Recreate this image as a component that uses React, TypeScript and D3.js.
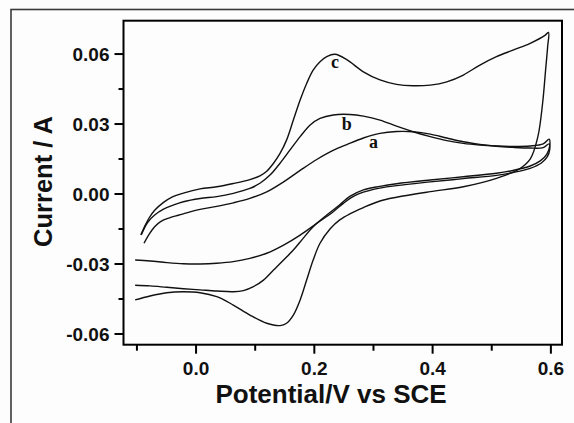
import React from "react";
import * as d3 from "d3";

// ---- data (potential V, current A) ----
const curveNames = ["a", "b", "c"];

const aPotential = [
  -0.088, -0.08, -0.07, -0.06, -0.045, -0.03, -0.0215, 0.0068, 0.035, 0.063, 0.091, 0.1195, 0.148, 0.176, 0.204, 0.23,
  0.255, 0.283, 0.311, 0.339, 0.367, 0.396, 0.424, 0.452, 0.48, 0.508, 0.536, 0.565, 0.587, 0.597,
  0.598, 0.594, 0.584, 0.565, 0.536, 0.508, 0.452, 0.396, 0.339, 0.3, 0.27, 0.249, 0.232, 0.204, 0.176, 0.148, 0.1195,
  0.091, 0.063, 0.035, 0.0068, -0.0215, -0.0495, -0.0778, -0.103,
];
const aCurrent = [
  -0.0211, -0.0175, -0.014, -0.0118, -0.0102, -0.0091, -0.0085, -0.0066, -0.0053, -0.0038, -0.0019, 0.0009, 0.0052,
  0.0101, 0.0148, 0.0185, 0.0212, 0.024, 0.026, 0.0268, 0.0267, 0.0257, 0.024, 0.0224, 0.0213, 0.0205, 0.02, 0.0197,
  0.0199, 0.0215,
  0.019, 0.016, 0.0133, 0.011, 0.0092, 0.008, 0.0066, 0.0052, 0.0036, 0.002, -0.0005, -0.004, -0.0076, -0.0126, -0.0176,
  -0.0219, -0.0254, -0.0276, -0.029, -0.0297, -0.03, -0.0299, -0.0294, -0.0287, -0.0283,
];

const bPotential = [
  -0.0925, -0.082, -0.07, -0.055, -0.04, -0.0215, 0.0068, 0.035, 0.063, 0.091, 0.108, 0.125, 0.142, 0.159, 0.176, 0.193,
  0.2096, 0.232, 0.26, 0.283, 0.311, 0.339, 0.367, 0.396, 0.424, 0.452, 0.48, 0.508, 0.536, 0.565, 0.587, 0.597,
  0.598, 0.593, 0.582, 0.565, 0.536, 0.508, 0.452, 0.396, 0.339, 0.311, 0.283, 0.26, 0.2435, 0.221, 0.198, 0.181,
  0.1645, 0.148, 0.131, 0.114, 0.097, 0.08, 0.063, 0.035, 0.0068, -0.0215, -0.0495, -0.0778, -0.103,
];
const bCurrent = [
  -0.0174, -0.0122, -0.009, -0.0065, -0.0049, -0.0033, -0.0019, -0.0011, 0.0003, 0.0024, 0.0046, 0.0081, 0.0132,
  0.0189, 0.0246, 0.0296, 0.0324, 0.0339, 0.0341, 0.0334, 0.0317, 0.0291, 0.0267, 0.0246, 0.0229, 0.0217, 0.021,
  0.0206, 0.0204, 0.0206, 0.0215, 0.0235,
  0.0205, 0.017, 0.0142, 0.012, 0.0101, 0.0089, 0.0074, 0.006, 0.0044, 0.0033, 0.0018, -0.001, -0.0045, -0.009, -0.014,
  -0.019, -0.024, -0.0283, -0.0326, -0.0369, -0.0397, -0.0414, -0.0419, -0.0416, -0.0411, -0.0406, -0.04, -0.0394,
  -0.0391,
];

const cPotential = [
  -0.0935, -0.088, -0.08, -0.07, -0.055, -0.04, -0.0215, 0.0068, 0.035, 0.063, 0.091, 0.108, 0.1195, 0.131, 0.142,
  0.153, 0.1645, 0.176, 0.187, 0.198, 0.2096, 0.221, 0.235, 0.2548, 0.283, 0.311, 0.339, 0.367, 0.396, 0.424, 0.452,
  0.48, 0.508, 0.536, 0.565, 0.59, 0.596,
  0.5945, 0.591, 0.586, 0.578, 0.565, 0.545, 0.508, 0.452, 0.396, 0.339, 0.311, 0.283, 0.26, 0.2435, 0.2265, 0.2096,
  0.198, 0.187, 0.176, 0.1645, 0.153, 0.142, 0.1195, 0.091, 0.063, 0.035, 0.0068, -0.0215, -0.0495, -0.0778, -0.103,
];
const cCurrent = [
  -0.0176, -0.0145, -0.0105, -0.007, -0.0036, -0.0012, 0.0004, 0.0022, 0.0031, 0.0045, 0.0062, 0.0078, 0.0098, 0.0132,
  0.0174, 0.0231, 0.0317, 0.0403, 0.0474, 0.0531, 0.0567, 0.0589, 0.0599, 0.0576, 0.0524, 0.0489, 0.047, 0.0464,
  0.0467, 0.0481, 0.051, 0.0553, 0.0589, 0.0617, 0.0646, 0.068, 0.0693,
  0.0631, 0.053, 0.0389, 0.0246, 0.015, 0.0105, 0.0067, 0.0031, 0.001, -0.0014, -0.003, -0.0058, -0.0085, -0.011,
  -0.015, -0.0211, -0.0283, -0.0369, -0.0454, -0.0519, -0.0554, -0.0564, -0.0554, -0.0519, -0.0476, -0.044, -0.0423,
  -0.0419, -0.0423, -0.0437, -0.0454,
];

// label anchor positions in data units
const labelPotential = [0.3, 0.2548, 0.235];
const labelCurrent = [0.0197, 0.0274, 0.0539];

const xTickMajor = [0.0, 0.2, 0.4, 0.6];
const xTickMinor = [-0.1, 0.1, 0.3, 0.5];
const yTickMajor = [-0.06, -0.03, 0.0, 0.03, 0.06];
const yTickMinor = [-0.045, -0.015, 0.015, 0.045];

const xTitle = "Potential/V vs SCE";
const yTitle = "Current / A";

const W = 574;
const H = 423;
const plot = { left: 123.5, right: 562, top: 20.7, bottom: 344.7 };

export default function App() {
  const x = d3.scaleLinear().domain([-0.1227, 0.6188]).range([plot.left, plot.right]);
  const y = d3.scaleLinear().domain([-0.0646, 0.0743]).range([plot.bottom, plot.top]);

  const series = [
    { pot: aPotential, cur: aCurrent },
    { pot: bPotential, cur: bCurrent },
    { pot: cPotential, cur: cCurrent },
  ];
  const line = d3
    .line<[number, number]>()
    .x((d) => x(d[0]))
    .y((d) => y(d[1]))
    .curve(d3.curveCatmullRom.alpha(0.5));

  const sans = "'Liberation Sans', Arial, sans-serif";
  const serif = "'Liberation Serif', 'Times New Roman', serif";

  return (
    <svg
      width={W}
      height={H}
      style={{ position: "absolute", left: 0, top: 0, background: "#ffffff" }}
    >
      <rect x={0} y={0} width={W} height={H} fill="#fdfdfd" />
      {/* outer frame */}
      <rect x={11} y={9.5} width={W + 20} height={H + 20} fill="none" stroke="#3a3a3a" strokeWidth={1.6} />

      {/* curves */}
      {series.map((s, i) => (
        <path
          key={curveNames[i]}
          d={line(s.pot.map((p, k) => [p, s.cur[k]] as [number, number])) || ""}
          fill="none"
          stroke="#111"
          strokeWidth={1.4}
        />
      ))}

      {/* curve labels */}
      {curveNames.map((n, i) => (
        <text
          key={"l" + n}
          x={x(labelPotential[i])}
          y={y(labelCurrent[i])}
          textAnchor="middle"
          fontFamily={serif}
          fontWeight="bold"
          fontSize={18}
          fill="#111"
        >
          {n}
        </text>
      ))}

      {/* plot frame */}
      <rect
        x={plot.left}
        y={plot.top}
        width={plot.right - plot.left}
        height={plot.bottom - plot.top}
        fill="none"
        stroke="#000"
        strokeWidth={2}
      />

      {/* y ticks */}
      {yTickMajor.map((t) => (
        <g key={"ym" + t}>
          <line x1={plot.left - 9} x2={plot.left} y1={y(t)} y2={y(t)} stroke="#000" strokeWidth={2} />
          <text
            x={plot.left - 14}
            y={y(t) + 7}
            textAnchor="end"
            fontFamily={sans}
            fontWeight="bold"
            fontSize={19}
            fill="#111"
          >
            {t.toFixed(2)}
          </text>
        </g>
      ))}
      {yTickMinor.map((t) => (
        <line key={"yn" + t} x1={plot.left - 5} x2={plot.left} y1={y(t)} y2={y(t)} stroke="#000" strokeWidth={2} />
      ))}

      {/* x ticks */}
      {xTickMajor.map((t) => (
        <g key={"xm" + t}>
          <line x1={x(t)} x2={x(t)} y1={plot.bottom} y2={plot.bottom + 9} stroke="#000" strokeWidth={2} />
          <text
            x={x(t)}
            y={375}
            textAnchor="middle"
            fontFamily={sans}
            fontWeight="bold"
            fontSize={19}
            fill="#111"
          >
            {t.toFixed(1)}
          </text>
        </g>
      ))}
      {xTickMinor.map((t) => (
        <line key={"xn" + t} x1={x(t)} x2={x(t)} y1={plot.bottom} y2={plot.bottom + 6} stroke="#000" strokeWidth={2} />
      ))}

      {/* axis titles */}
      <text
        x={331}
        y={403}
        textAnchor="middle"
        fontFamily={sans}
        fontWeight="bold"
        fontSize={26}
        fill="#111"
      >
        {xTitle}
      </text>
      <text
        transform={`translate(52, 181.5) rotate(-90)`}
        textAnchor="middle"
        fontFamily={sans}
        fontWeight="bold"
        fontSize={25.5}
        fill="#111"
      >
        {yTitle}
      </text>
    </svg>
  );
}
